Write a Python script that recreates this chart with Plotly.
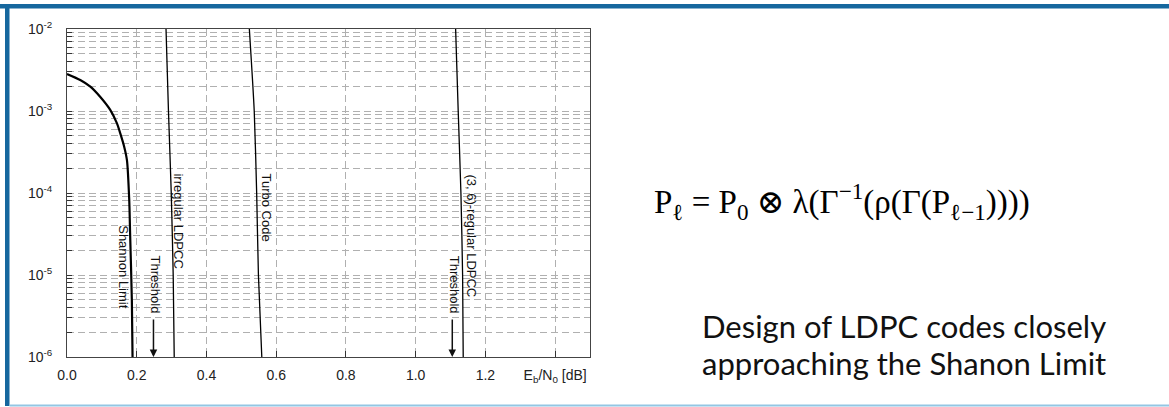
import math
import plotly.graph_objects as go

# ---------------- data ----------------
shannon_x = [0.0, 0.038, 0.067, 0.095, 0.124, 0.143, 0.153, 0.164, 0.172, 0.1785, 0.181, 0.186, 0.188]
shannon_y = [2.83e-3, 2.39e-3, 1.98e-3, 1.49e-3, 1.03e-3, 7.1e-4, 5.3e-4, 3.67e-4, 2.5e-4, 8.2e-5, 3.2e-5, 5e-6, 1e-6]

irregular_x = [0.284, 0.291, 0.299, 0.3046, 0.3075]
irregular_y = [1e-2, 1e-3, 1e-4, 1e-5, 1e-6]

turbo_x = [0.523, 0.537, 0.544, 0.549, 0.5587]
turbo_y = [1e-2, 1e-3, 1e-4, 1e-5, 1e-6]

regular_x = [1.1146, 1.122, 1.1298, 1.1346, 1.1364]
regular_y = [1e-2, 1e-3, 1e-4, 1e-5, 1e-6]

thresholds = [0.248, 1.105]

x_tickvals = [0.0, 0.2, 0.4, 0.6, 0.8, 1.0, 1.2, 1.4]
x_ticktext = ["0.0", "0.2", "0.4", "0.6", "0.8", "1.0", "1.2", "E<sub>b</sub>/N<sub>0</sub> [dB]"]

decades = [-6, -5, -4, -3, -2]

curve_labels = [
    # text, x, y
    ("Shannon Limit", 0.163, 1.25e-5),
    ("irregular LDPCC", 0.319, 4.6e-5),
    ("Turbo Code", 0.573, 6.7e-5),
    ("(3, 6)-regular LDPCC", 1.160, 3.0e-5),
]
threshold_label_y = 7.6e-6
threshold_arrow_tail = 3.0e-6

formula = "P<sub>ℓ</sub> = P<sub>0</sub> ⊗ λ(Γ<sup>−1</sup>(ρ(Γ(P<sub>ℓ−1</sub>))))"
caption_lines = ["Design of LDPC codes closely", "approaching the Shanon Limit"]

# ---------------- figure ----------------
W, H = 1169, 407
ML, MR, MT, MB = 67, 579, 29, 50
PW, PH = W - ML - MR, H - MT - MB


def px(x):
    return (x - ML) / PW


def py(y):
    return (H - MB - y) / PH


fig = go.Figure()
for xs, ys, w in [(shannon_x, shannon_y, 2.2), (irregular_x, irregular_y, 1.3),
                  (turbo_x, turbo_y, 1.3), (regular_x, regular_y, 1.3)]:
    fig.add_trace(go.Scatter(x=xs, y=ys, mode="lines",
                             line=dict(color="black", width=w, shape="spline", smoothing=0.6),
                             showlegend=False, hoverinfo="skip"))

y_tickvals, y_ticktext = [], []
for d in decades:
    mults = [1] if d == decades[-1] else range(1, 10)
    for m in mults:
        y_tickvals.append(m * 10 ** d)
        y_ticktext.append(f"10<sup>{d}</sup>" if m == 1 else "")

tick_font = dict(family="Liberation Sans, Arial", size=14, color="#222")
grid = dict(showgrid=True, gridcolor="#b0b0b0", griddash="7px,4px", gridwidth=1)

fig.update_xaxes(range=[0, 1.5], tickvals=x_tickvals, ticktext=x_ticktext,
                 ticks="inside", ticklen=6, tickcolor="#333", tickfont=tick_font,
                 ticklabelstandoff=5,
                 showline=True, linecolor="#444", linewidth=1, mirror=True,
                 zeroline=False, **grid)
fig.update_yaxes(type="log", range=[-6, -2], tickvals=y_tickvals, ticktext=y_ticktext,
                 ticks="inside", ticklen=5, tickcolor="#333", tickfont=tick_font,
                 ticklabelstandoff=11,
                 showline=True, linecolor="#444", linewidth=1, mirror=True,
                 zeroline=False, **grid)

annotations = []
for text, x, y in curve_labels:
    annotations.append(dict(x=x, y=math.log10(y), xref="x", yref="y", text=text,
                            textangle=90, showarrow=False,
                            font=dict(family="Liberation Sans, Arial", size=13, color="#111")))
for t in thresholds:
    annotations.append(dict(x=t + 0.005, y=math.log10(threshold_label_y), xref="x", yref="y",
                            text="Threshold", textangle=90, showarrow=False,
                            font=dict(family="Liberation Sans, Arial", size=13, color="#111")))
    annotations.append(dict(x=t, y=-6, xref="x", yref="y", ax=t, ay=math.log10(threshold_arrow_tail),
                            axref="x", ayref="y", text="", showarrow=True,
                            arrowhead=2, arrowsize=1, arrowwidth=1.5, arrowcolor="#111"))

annotations.append(dict(x=px(842), y=py(201), xref="paper", yref="paper", text=formula,
                        showarrow=False, xanchor="center", yanchor="middle",
                        font=dict(family="Liberation Serif, DejaVu Serif", size=33, color="black")))
for line, yc in zip(caption_lines, [326, 363]):
    annotations.append(dict(x=px(1108), y=py(yc), xref="paper", yref="paper", text=line,
                            showarrow=False, xanchor="right", yanchor="middle", align="right",
                            font=dict(family="Lato, Open Sans", size=31, color="#111")))

shapes = [
    dict(type="rect", xref="paper", yref="paper", x0=px(0), x1=px(1169), y0=py(4), y1=py(8.5),
         fillcolor="#16679e", line=dict(width=0), layer="above"),
    dict(type="rect", xref="paper", yref="paper", x0=px(5), x1=px(9.5), y0=py(4), y1=py(406),
         fillcolor="#16679e", line=dict(width=0), layer="above"),
    dict(type="rect", xref="paper", yref="paper", x0=px(9.5), x1=px(1169), y0=py(404.5), y1=py(406.5),
         fillcolor="#93c6e3", line=dict(width=0), layer="above"),
]

fig.update_layout(width=W, height=H, margin=dict(l=ML, r=MR, t=MT, b=MB),
                  paper_bgcolor="white", plot_bgcolor="white",
                  annotations=annotations, shapes=shapes, showlegend=False)

fig.write_html("out.html", config={"displayModeBar": False},
               post_script="document.body.style.margin='0px';document.body.style.overflow='hidden';")
